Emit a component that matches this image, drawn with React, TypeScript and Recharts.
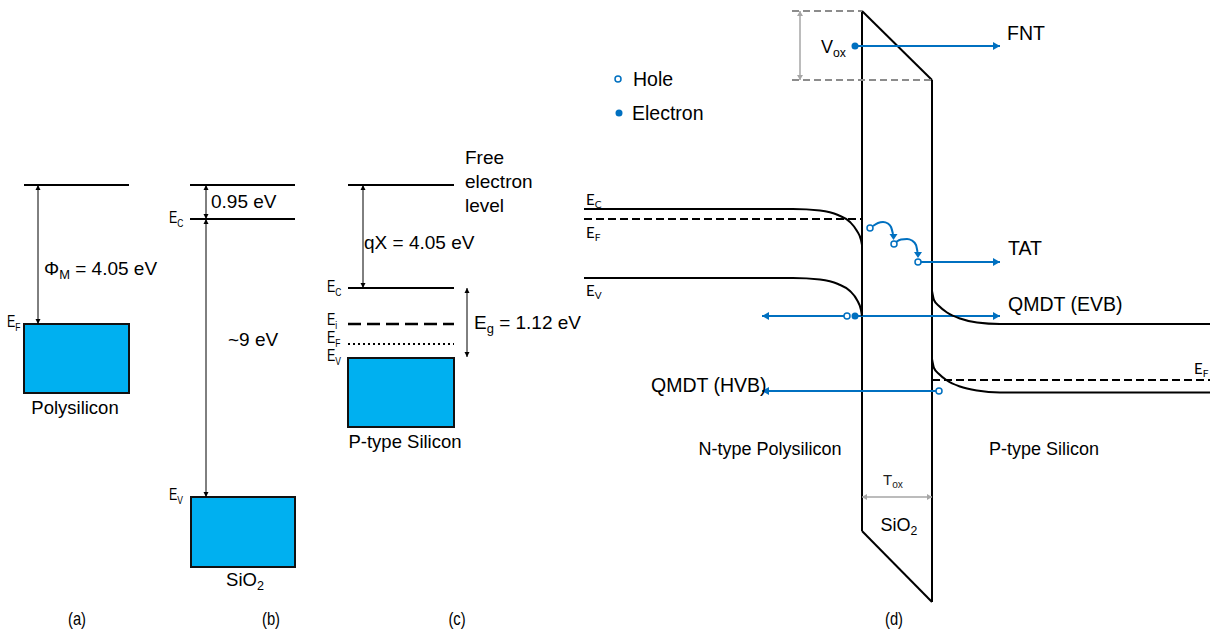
import { ComposedChart, XAxis, YAxis, Line, Scatter, ReferenceLine, ReferenceArea } from 'recharts';

const W = 1224;
const H = 632;
const BLUE = '#0070C0';
const CYAN = '#00B0F0';
const GREY = '#8c8c8c';
const SANS = "'Liberation Sans', Arial, sans-serif";
const CAL = "Lato, 'Open Sans', sans-serif";

type Seg = [number, number, number, number];
type Pt = { x: number; y: number };
type Lbl = Pt & { t: string; s?: string; r?: string };

// band blocks (filled bands) for (a) polysilicon, (b) SiO2, (c) p-type Si
const bandBlocks = [
  { x1: 24, x2: 129, y1: 324, y2: 393 },
  { x1: 191, x2: 295, y1: 497, y2: 567 },
  { x1: 348, x2: 454, y1: 358, y2: 427 },
];

// vacuum / conduction levels in (a)-(c)
const levelLines: Seg[] = [
  [24, 185, 129, 185],
  [190, 185, 295, 185],
  [190, 219, 295, 219],
  [348, 185, 454, 185],
  [348, 288, 454, 288],
];
const intrinsicLevel: Seg[] = [[348, 324, 454, 324]];
const fermiDotted: Seg[] = [[348, 344, 454, 344]];

// (d) oxide barrier outline
const oxideOutline: Seg[] = [
  [862, 11, 862, 531],
  [932, 80, 932, 602],
  [862, 11, 932, 80],
  [862, 531, 932, 602],
];
const fermiDashed: Seg[] = [
  [584, 219, 862, 219],
  [932, 380, 1210, 380],
];
const voxGuides: Seg[] = [
  [792, 11, 862, 11],
  [792, 80, 932, 80],
];

// double-headed energy gap arrows
const gapArrows: Seg[] = [
  [38, 185, 38, 324],
  [206, 185, 206, 219],
  [206, 219, 206, 497],
  [363, 185, 363, 288],
  [467, 288, 467, 357],
];
const dimArrows: Seg[] = [
  [800, 11, 800, 80],
  [862, 497, 932, 497],
];
// tunnelling paths, head at the second point
const tunnelArrows: Seg[] = [
  [858, 46, 1000, 46],
  [921, 262, 1000, 262],
  [858, 316, 1000, 316],
  [844, 316, 762, 316],
  [936, 391, 762, 391],
];

// band bending curves
const polyEc: Pt[] = [
  { x: 584, y: 209 }, { x: 793, y: 209 }, { x: 820, y: 210.5 }, { x: 838, y: 215 },
  { x: 850, y: 222 }, { x: 857, y: 231 }, { x: 861, y: 240 }, { x: 862, y: 245 },
];
const polyEv: Pt[] = [
  { x: 584, y: 278 }, { x: 793, y: 278 }, { x: 820, y: 279.5 }, { x: 838, y: 284 },
  { x: 850, y: 291 }, { x: 857, y: 300 }, { x: 861, y: 310 }, { x: 862, y: 316 },
];
const siEc: Pt[] = [
  { x: 932, y: 291 }, { x: 934, y: 300 }, { x: 939, y: 306 }, { x: 947, y: 312.5 },
  { x: 960, y: 318.5 }, { x: 977, y: 322.5 }, { x: 1000, y: 324 }, { x: 1210, y: 324 },
];
const siEv: Pt[] = [
  { x: 932, y: 359 }, { x: 934, y: 368 }, { x: 939, y: 374 }, { x: 947, y: 380.5 },
  { x: 960, y: 386.5 }, { x: 977, y: 390.5 }, { x: 1000, y: 392.5 }, { x: 1210, y: 392.5 },
];
const tatHop1: Pt[] = [
  { x: 873, y: 226 }, { x: 878, y: 223 }, { x: 883, y: 222 }, { x: 888, y: 223.5 },
  { x: 891, y: 227 }, { x: 893, y: 234 },
];
const tatHop2: Pt[] = [
  { x: 896, y: 242 }, { x: 901, y: 239.5 }, { x: 907, y: 239 }, { x: 912, y: 240.5 },
  { x: 916, y: 245 }, { x: 917.5, y: 252 },
];
const hopHeads = [
  { x: 893.5, y: 240, d: 'down' },
  { x: 918, y: 258, d: 'down' },
];

const holes: Pt[] = [
  { x: 618, y: 79 }, { x: 870, y: 228 }, { x: 894, y: 244 },
  { x: 918, y: 262 }, { x: 847, y: 316 }, { x: 939, y: 391 },
];
const electrons: Pt[] = [
  { x: 619, y: 113 }, { x: 855, y: 46 }, { x: 855, y: 316 },
];

const valueLabels: Lbl[] = [
  { x: 44, y: 275, t: 'Φ', s: 'M', r: ' = 4.05 eV' },
  { x: 211, y: 208, t: '0.95 eV' },
  { x: 228, y: 346, t: '~9 eV' },
  { x: 465, y: 164, t: 'Free' },
  { x: 465, y: 188, t: 'electron' },
  { x: 465, y: 212, t: 'level' },
  { x: 364, y: 249, t: 'qX = 4.05 eV' },
  { x: 474, y: 329, t: 'E', s: 'g', r: ' = 1.12 eV' },
];
const materialLabels: Lbl[] = [
  { x: 75, y: 414, t: 'Polysilicon' },
  { x: 245, y: 586, t: 'SiO', s: '2' },
  { x: 405, y: 448, t: 'P-type Silicon' },
];
const levelNames: Lbl[] = [
  { x: 7, y: 327, t: 'E', s: 'F' },
  { x: 169, y: 223, t: 'E', s: 'C' },
  { x: 169, y: 500, t: 'E', s: 'V' },
  { x: 327, y: 292, t: 'E', s: 'C' },
  { x: 327, y: 325, t: 'E', s: 'i' },
  { x: 327, y: 343, t: 'E', s: 'F' },
  { x: 327, y: 361, t: 'E', s: 'V' },
];
const panelTags: Lbl[] = [
  { x: 77, y: 625, t: '(a)' },
  { x: 271, y: 625, t: '(b)' },
  { x: 457, y: 625, t: '(c)' },
  { x: 894, y: 625, t: '(d)' },
];
const mechanismLabels: Lbl[] = [
  { x: 1007, y: 39.5, t: 'FNT' },
  { x: 633, y: 86, t: 'Hole' },
  { x: 632, y: 120, t: 'Electron' },
  { x: 1008, y: 255, t: 'TAT' },
  { x: 1008, y: 310.5, t: 'QMDT (EVB)' },
  { x: 651, y: 391.5, t: 'QMDT (HVB)' },
];
const voxLabel: Lbl[] = [{ x: 821, y: 53, t: 'V', s: 'ox' }];
const regionLabels: Lbl[] = [
  { x: 770, y: 455, t: 'N-type Polysilicon' },
  { x: 1044, y: 455, t: 'P-type Silicon' },
  { x: 899, y: 531, t: 'SiO', s: '2' },
];
const toxLabel: Lbl[] = [{ x: 883, y: 485, t: 'T', s: 'ox' }];
const bandNamesD: Lbl[] = [
  { x: 586, y: 205, t: 'E', s: 'C' },
  { x: 586, y: 238, t: 'E', s: 'F' },
  { x: 586, y: 296, t: 'E', s: 'V' },
  { x: 1194, y: 374, t: 'E', s: 'F' },
];

function headsFor(segs: Seg[], both: boolean) {
  const out: { x: number; y: number; d: string }[] = [];
  const dir = (ax: number, ay: number, bx: number, by: number) =>
    bx > ax ? 'right' : bx < ax ? 'left' : by > ay ? 'down' : 'up';
  segs.forEach(([x1, y1, x2, y2]) => {
    out.push({ x: x2, y: y2, d: dir(x1, y1, x2, y2) });
    if (both) out.push({ x: x1, y: y1, d: dir(x2, y2, x1, y1) });
  });
  return out;
}

function headShape(len: number, half: number, color: string) {
  return (p: any) => {
    const { cx, cy } = p;
    const d = p.payload.d;
    let pts = '';
    if (d === 'right') pts = `${cx},${cy} ${cx - len},${cy - half} ${cx - len},${cy + half}`;
    if (d === 'left') pts = `${cx},${cy} ${cx + len},${cy - half} ${cx + len},${cy + half}`;
    if (d === 'down') pts = `${cx},${cy} ${cx - half},${cy - len} ${cx + half},${cy - len}`;
    if (d === 'up') pts = `${cx},${cy} ${cx - half},${cy + len} ${cx + half},${cy + len}`;
    return <polygon points={pts} fill={color} stroke="none" />;
  };
}

function textShape(size: number, family: string, anchor: 'start' | 'middle' | 'end' = 'start', sx = 1, color = '#000') {
  return (p: any) => {
    const d: Lbl = p.payload;
    return (
      <text
        x={0}
        y={0}
        transform={`translate(${p.cx},${p.cy}) scale(${sx},1)`}
        fontSize={size}
        fontFamily={family}
        textAnchor={anchor}
        fill={color}
      >
        {d.t}
        {d.s && (
          <tspan fontSize={size * 0.68} dy={size * 0.22}>
            {d.s}
          </tspan>
        )}
        {d.r && <tspan dy={-size * 0.22}>{d.r}</tspan>}
      </text>
    );
  };
}

const segLines = (segs: Seg[], key: string, props: any) =>
  segs.map(([x1, y1, x2, y2], i) => (
    <ReferenceLine
      key={`${key}-${i}`}
      segment={[{ x: x1, y: y1 }, { x: x2, y: y2 }]}
      {...props}
    />
  ));

const curve = (data: Pt[], key: string, color: string, width: number) => (
  <Line
    key={key}
    data={data}
    dataKey="y"
    type="monotoneX"
    stroke={color}
    strokeWidth={width}
    dot={false}
    activeDot={false}
    isAnimationActive={false}
  />
);

export default function App() {
  return (
    <div style={{ position: 'absolute', left: 0, top: 0, width: W, height: H, background: '#fff' }}>
      <ComposedChart width={W} height={H} margin={{ top: 0, right: 0, bottom: 0, left: 0 }}>
        <XAxis type="number" dataKey="x" domain={[0, W]} hide allowDataOverflow />
        <YAxis type="number" dataKey="y" domain={[0, H]} reversed hide allowDataOverflow />

        {bandBlocks.map((b, i) => (
          <ReferenceArea
            key={`blk-${i}`}
            x1={b.x1}
            x2={b.x2}
            y1={b.y1}
            y2={b.y2}
            fill={CYAN}
            fillOpacity={1}
            stroke="#111"
            strokeWidth={2}
          />
        ))}

        {segLines(levelLines, 'lvl', { stroke: '#000', strokeWidth: 2 })}
        {segLines(intrinsicLevel, 'ei', { stroke: '#000', strokeWidth: 2.5, strokeDasharray: '13 6' })}
        {segLines(fermiDotted, 'efd', { stroke: '#000', strokeWidth: 2, strokeDasharray: '2 3' })}
        {segLines(oxideOutline, 'ox', { stroke: '#000', strokeWidth: 2 })}
        {segLines(fermiDashed, 'efx', { stroke: '#000', strokeWidth: 2, strokeDasharray: '8 4' })}
        {segLines(voxGuides, 'vg', { stroke: GREY, strokeWidth: 2, strokeDasharray: '7 4' })}
        {segLines(gapArrows, 'gap', { stroke: '#000', strokeWidth: 1 })}
        {segLines(dimArrows, 'dim', { stroke: '#a6a6a6', strokeWidth: 1.5 })}
        {segLines(tunnelArrows, 'tun', { stroke: BLUE, strokeWidth: 2 })}

        {curve(polyEc, 'pec', '#000', 2)}
        {curve(polyEv, 'pev', '#000', 2)}
        {curve(siEc, 'sec', '#000', 2)}
        {curve(siEv, 'sev', '#000', 2)}
        {curve(tatHop1, 'h1', BLUE, 2)}
        {curve(tatHop2, 'h2', BLUE, 2)}

        <Scatter data={headsFor(gapArrows, true)} shape={headShape(5, 2.5, '#000')} isAnimationActive={false} />
        <Scatter data={headsFor(dimArrows, true)} shape={headShape(5, 3, '#a6a6a6')} isAnimationActive={false} />
        <Scatter data={headsFor(tunnelArrows, false)} shape={headShape(7, 4, BLUE)} isAnimationActive={false} />
        <Scatter data={hopHeads} shape={headShape(6, 4, BLUE)} isAnimationActive={false} />

        <Scatter
          data={holes}
          shape={(p: any) => <circle cx={p.cx} cy={p.cy} r={3} fill="#fff" stroke={BLUE} strokeWidth={1.5} />}
          isAnimationActive={false}
        />
        <Scatter
          data={electrons}
          shape={(p: any) => <circle cx={p.cx} cy={p.cy} r={3.5} fill={BLUE} stroke="none" />}
          isAnimationActive={false}
        />

        <Scatter data={valueLabels} shape={textShape(19, SANS)} isAnimationActive={false} />
        <Scatter data={materialLabels} shape={textShape(18.5, SANS, 'middle')} isAnimationActive={false} />
        <Scatter data={levelNames} shape={textShape(16, SANS, 'start', 0.78)} isAnimationActive={false} />
        <Scatter data={panelTags} shape={textShape(18, SANS, 'middle', 0.82)} isAnimationActive={false} />
        <Scatter data={mechanismLabels} shape={textShape(19.5, SANS)} isAnimationActive={false} />
        <Scatter data={voxLabel} shape={textShape(18, SANS)} isAnimationActive={false} />
        <Scatter data={regionLabels} shape={textShape(18, SANS, 'middle')} isAnimationActive={false} />
        <Scatter data={toxLabel} shape={textShape(15, SANS, 'start', 1, '#222')} isAnimationActive={false} />
        <Scatter data={bandNamesD} shape={textShape(15, CAL)} isAnimationActive={false} />
      </ComposedChart>
    </div>
  );
}
